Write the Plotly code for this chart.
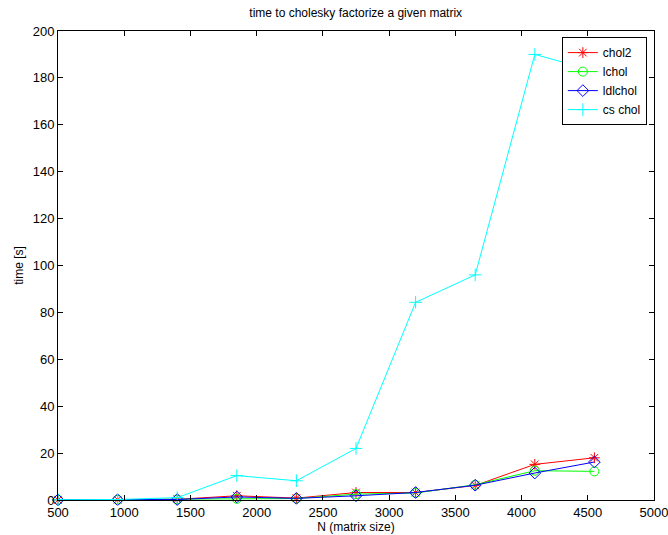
import plotly.graph_objects as go

N = [500, 950, 1400, 1850, 2300, 2750, 3200, 3650, 4100, 4550]
chol2 = [0.05, 0.1, 0.3, 1.8, 0.8, 3.2, 3.2, 6.2, 15.2, 18.0]
lchol = [0.05, 0.1, 0.2, 0.5, 0.6, 2.5, 3.0, 6.5, 12.5, 12.2]
ldlchol = [0.05, 0.1, 0.2, 1.3, 0.7, 1.8, 3.2, 6.3, 11.5, 16.2]
cschol = [0.1, 0.2, 1.0, 10.4, 8.2, 22.0, 84.3, 96.0, 190.0, 183.0]

x_ticks = [500, 1000, 1500, 2000, 2500, 3000, 3500, 4000, 4500, 5000]
y_ticks = [0, 20, 40, 60, 80, 100, 120, 140, 160, 180, 200]

FONT = "Liberation Sans, Arial, Helvetica, sans-serif"

series = [
    ("chol2", chol2, "#ff0000", "asterisk-open"),
    ("lchol", lchol, "#00ff00", "circle-open"),
    ("ldlchol", ldlchol, "#0000ff", "diamond-open"),
    ("cs chol", cschol, "#00ffff", "cross-thin-open"),
]

fig = go.Figure()
for name, vals, color, sym in series:
    fig.add_trace(go.Scatter(
        x=N, y=vals, name=name, mode="lines+markers",
        line=dict(color=color, width=1),
        marker=dict(symbol=sym, size=9, color=color, line=dict(color=color, width=1)),
        cliponaxis=False,
    ))

axis_common = dict(
    showline=True, linecolor="black", linewidth=1, mirror="ticks",
    ticks="inside", ticklen=5, tickcolor="black", tickwidth=1,
    showgrid=False, zeroline=False, automargin=False,
    ticklabeloverflow="allow",
    tickfont=dict(family=FONT, size=13, color="black"),
)

fig.update_layout(
    width=668, height=535,
    margin=dict(l=58, r=14, t=31, b=35),
    paper_bgcolor="white", plot_bgcolor="white",
    title=dict(text="time to cholesky factorize a given matrix",
               font=dict(family=FONT, size=12, color="black"),
               x=0.5325, xanchor="center", y=0.977, yanchor="middle"),
    xaxis=dict(range=[500, 5000], tickvals=x_ticks,
               title=dict(text="N (matrix size)", font=dict(family=FONT, size=12, color="black"), standoff=2),
               **axis_common),
    yaxis=dict(range=[0, 200], tickvals=y_ticks,
               title=dict(text="time [s]", font=dict(family=FONT, size=12, color="black"), standoff=6),
               **axis_common),
    legend=dict(x=0.988, xanchor="right", y=0.987, yanchor="top",
                bgcolor="white", bordercolor="black", borderwidth=1,
                font=dict(family=FONT, size=12, color="black"),
                tracegroupgap=0, itemwidth=30),
    showlegend=True,
)

fig.write_html("out.html")
